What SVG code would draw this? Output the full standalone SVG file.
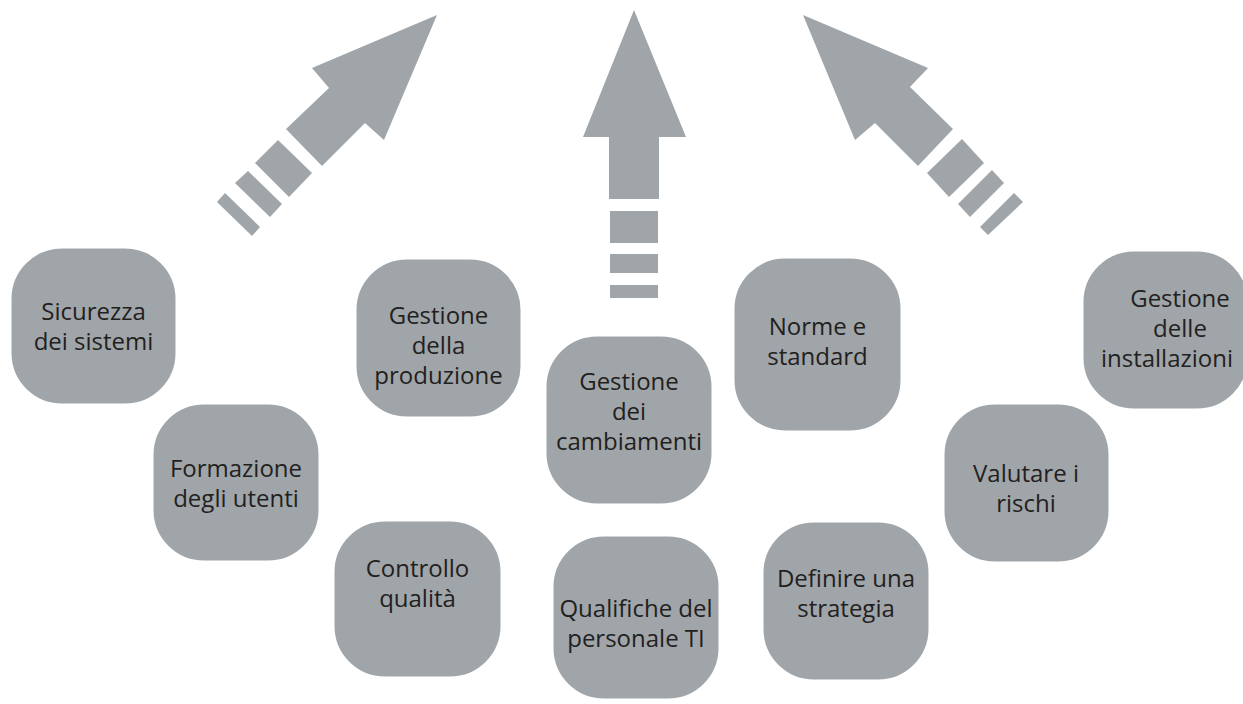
<svg xmlns="http://www.w3.org/2000/svg" width="1243" height="704" viewBox="0 0 1243 704">
<style>
.box{fill:#a0a5a9;stroke:#ffffff;stroke-width:3}
.arr{fill:#a0a5a9}
.t{font-family:"Open Sans","Noto Sans",sans-serif;font-size:24px;fill:#231f20;text-anchor:middle}
</style>
<rect width="1243" height="704" fill="#ffffff"/>
<g id="connectors">
<g id="arrow-left">
<polygon class="arr" points="437,15 312,68 329,88 286,129 322,166 365,123 384,140"/>
<polygon class="arr" points="278,140 312,173 289,197 255,163"/>
<polygon class="arr" points="248,171 282,204 270,217 235,183"/>
<polygon class="arr" points="225,193 260,227 252,236 217,202"/>
</g>
<g id="arrow-center">
<polygon class="arr" points="634,10 686,137 659,137 659,199 609,199 609,137 583,137"/>
<rect class="arr" x="610" y="211" width="48" height="32"/>
<rect class="arr" x="610" y="254" width="48" height="19"/>
<rect class="arr" x="610" y="285" width="48" height="13"/>
</g>
<g id="arrow-right">
<polygon class="arr" points="803,15 928,68 910,87 953,129 918,166 875,123 855,140"/>
<polygon class="arr" points="962,139 984,163 949,197 927,173"/>
<polygon class="arr" points="992,170 1004,183 970,217 958,204"/>
<polygon class="arr" points="1014,193 1023,202 988,235 980,227"/>
</g>
</g>
<g id="n1"><rect class="box" x="10" y="247" width="167" height="158" rx="52"/>
<text class="t" x="93.5" y="320">Sicurezza</text><text class="t" x="93.5" y="350">dei sistemi</text></g>
<g id="n2"><rect class="box" x="152" y="403" width="168" height="159" rx="52"/>
<text class="t" x="236" y="477">Formazione</text><text class="t" x="236" y="507">degli utenti</text></g>
<g id="n3"><rect class="box" x="355" y="258" width="167" height="160" rx="52"/>
<text class="t" x="438.5" y="324">Gestione</text><text class="t" x="438.5" y="354">della</text><text class="t" x="438.5" y="384">produzione</text></g>
<g id="n4"><rect class="box" x="333" y="520" width="169" height="158" rx="52"/>
<text class="t" x="417.5" y="577">Controllo</text><text class="t" x="417.5" y="607">qualità</text></g>
<g id="n5"><rect class="box" x="545" y="335" width="168" height="170" rx="52"/>
<text class="t" x="629" y="390">Gestione</text><text class="t" x="629" y="420">dei</text><text class="t" x="629" y="450">cambiamenti</text></g>
<g id="n6"><rect class="box" x="552" y="535" width="168" height="165" rx="52"/>
<text class="t" x="636" y="617">Qualifiche del</text><text class="t" x="636" y="647">personale TI</text></g>
<g id="n7"><rect class="box" x="733" y="257" width="169" height="175" rx="52"/>
<text class="t" x="817.5" y="335">Norme e</text><text class="t" x="817.5" y="365">standard</text></g>
<g id="n8"><rect class="box" x="762" y="521" width="168" height="160" rx="52"/>
<text class="t" x="846" y="587">Definire una</text><text class="t" x="846" y="617">strategia</text></g>
<g id="n9"><rect class="box" x="943" y="403" width="167" height="160" rx="52"/>
<text class="t" x="1026" y="482">Valutare i</text><text class="t" x="1026" y="512">rischi</text></g>
<g id="n10"><rect class="box" x="1082" y="250" width="167" height="160" rx="52"/>
<text class="t" x="1180" y="307">Gestione</text><text class="t" x="1180" y="337">delle</text><text class="t" x="1167" y="367">installazioni</text></g>
</svg>
